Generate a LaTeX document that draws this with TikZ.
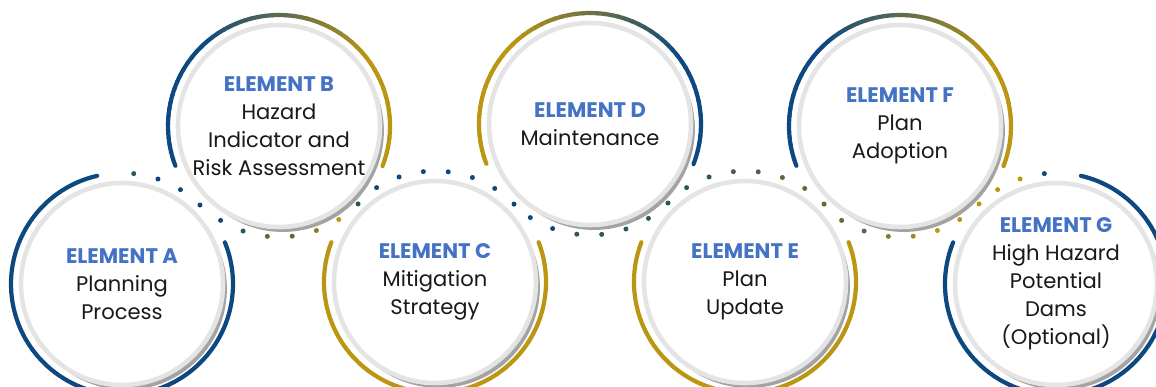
\documentclass[tikz,border=0pt]{standalone}
\usepackage{fontspec}
\setmainfont{Poppins}
\usetikzlibrary{shadows}

\definecolor{ringblue}{RGB}{14,72,128}
\definecolor{ringgold}{RGB}{186,150,18}
\definecolor{dotteal}{RGB}{42,86,96}
\definecolor{dotolive}{RGB}{98,102,62}
\definecolor{headblue}{RGB}{68,114,196}
\definecolor{ringgray}{RGB}{228,228,228}

\tikzset{
  element/.style={circle, fill=white, draw=ringgray, line width=2.6pt,
    minimum size=115pt, inner sep=0pt, align=center, text=black!90,
    font=\fontsize{12pt}{15.9pt}\selectfont,
    drop shadow={shadow xshift=2.2pt, shadow yshift=-2.8pt, opacity=1, fill=black!36}},
  outerarc/.style={line width=2.4pt, line cap=round},
}
\newcommand{\elhead}[1]{{\bfseries\color{headblue}ELEMENT #1}}
% colour fading arc over the top of a circle
\newcommand{\fadearc}[3]{%
  \foreach \i in {0,...,59} {
    \pgfmathsetmacro{\s}{201-3.7*\i}
    \pgfmathtruncatemacro{\p}{min(100,max(0,(\i-18)*100/26))}
    \draw[outerarc, #3!\p!#2] (#1) ++(\s:111) arc[start angle=\s, end angle=\s-3.9, radius=111];
  }}
% dots of the wave round one circle
\newcommand{\wavedots}[4]{%
  \foreach \c [count=\k] in {#4} {
    \fill[\c] (#1) ++({#2+#3*\k}:111) circle[radius=2.5];
  }}

\begin{document}
\begin{tikzpicture}[x=0.02cm, y=0.02cm]
\useasboundingbox (0,0) rectangle (1156,386);
\clip (0,0) rectangle (1156,386);

% the seven elements
\node[element] (A) at (122,102) {\elhead{A}\\Planning\\Process};
\node[element] (B) at (279,260) {\elhead{B}\\Hazard\\Indicator and\\Risk Assessment};
\node[element] (C) at (435,104) {\elhead{C}\\Mitigation\\Strategy};
\node[element] (D) at (590,262) {\elhead{D}\\Maintenance};
\node[element] (E) at (745,104) {\elhead{E}\\Plan\\Update};
\node[element] (F) at (900,260) {\elhead{F}\\Plan\\Adoption};
\node[element] (G) at (1056,102) {\elhead{G}\\High Hazard\\Potential\\Dams\\(Optional)};

% outer arcs
\draw[outerarc, ringblue] (A) ++(103:111) arc[start angle=103, end angle=382, radius=111];
\fadearc{B}{ringblue}{ringgold}
\draw[outerarc, ringgold] (C) ++(159:111) arc[start angle=159, end angle=381, radius=111];
\fadearc{D}{ringgold}{ringblue}
\draw[outerarc, ringgold] (E) ++(159:111) arc[start angle=159, end angle=381, radius=111];
\fadearc{F}{ringblue}{ringgold}
\draw[outerarc, ringblue] (G) ++(158:111) arc[start angle=158, end angle=437, radius=111];

% dotted wave
\wavedots{A}{96.8}{-12.86}{dotteal, ringblue, ringblue, ringblue}
\wavedots{B}{225.4}{12.86}{ringblue, dotteal, dotolive, dotolive, dotolive!55!ringgold, ringgold, dotteal}
\wavedots{C}{134.6}{-12.86}{ringblue, ringblue, ringblue, ringblue, ringblue, ringblue, ringblue}
\wavedots{D}{224.6}{12.86}{ringblue, ringblue, dotteal, dotteal, dotteal, dotteal, dotteal}
\wavedots{E}{134.6}{-12.86}{dotteal, dotteal, dotteal!50!dotolive, dotolive!70!dotteal, dotolive, dotolive, dotolive}
\wavedots{F}{225.4}{12.86}{dotolive, dotolive, dotolive!60!ringgold, ringgold!70!dotolive, ringgold, ringgold, ringgold}
\wavedots{G}{134.6}{-12.86}{ringgold, ringgold, ringblue}
\end{tikzpicture}
\end{document}
